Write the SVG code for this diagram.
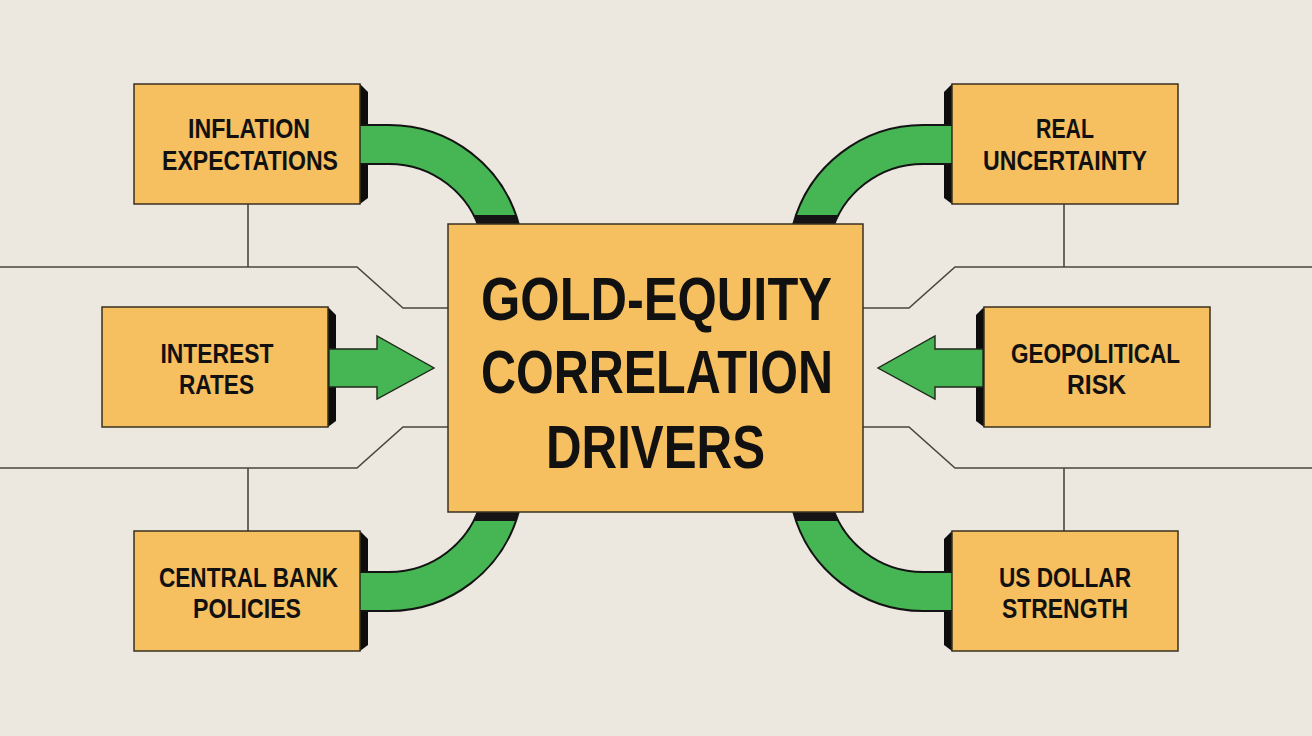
<svg xmlns="http://www.w3.org/2000/svg" xmlns:xlink="http://www.w3.org/1999/xlink" width="1312" height="736" viewBox="0 0 1312 736">
<style>
.box{fill:#F6BF5F;stroke:#3a3020;stroke-width:1.5}
.shadow{fill:#0d0d0d}
.wire{fill:none;stroke:#4a463e;stroke-width:1.6}
.lbl{font-family:"Liberation Sans Narrow","Liberation Sans",Arial,sans-serif;font-weight:bold;font-size:27px;fill:#111;text-anchor:middle}
.title{font-family:"Liberation Sans Narrow","Liberation Sans",Arial,sans-serif;font-weight:bold;font-size:61px;fill:#111;text-anchor:middle}
.arrow{fill:#46B553;stroke:#1f2a1a;stroke-width:1.4;stroke-linejoin:miter}
</style>
<defs>
<clipPath id="capclip" clipPathUnits="userSpaceOnUse"><rect x="0" y="0" width="1312" height="215"/></clipPath>
<clipPath id="startclip" clipPathUnits="userSpaceOnUse"><rect x="360.7" y="0" width="600" height="736"/></clipPath>
<g id="band" clip-path="url(#startclip)">
<path d="M 355 144.5 H 389 A 115 115 0 0 1 500.15 230" fill="none" stroke="#141414" stroke-width="41"/>
<path d="M 355 144.5 H 389 A 115 115 0 0 1 500.15 230" fill="none" stroke="#46B553" stroke-width="37" clip-path="url(#capclip)"/>
</g>
<polygon id="arr" class="arrow" points="329,349 377,349 377,336 434,368 377,399 377,387 329,387"/>
</defs>
<rect x="0" y="0" width="1312" height="736" fill="#ECE8DF"/>

<g id="wires">
<path class="wire" d="M 0 267 H 357 L 403 308 H 448"/>
<path class="wire" d="M 248 204 V 267"/>
<path class="wire" d="M 0 468 H 357 L 403 427 H 448"/>
<path class="wire" d="M 248 468 V 531"/>
<path class="wire" d="M 1312 267 H 955 L 909 308 H 863"/>
<path class="wire" d="M 1064 204 V 267"/>
<path class="wire" d="M 1312 468 H 955 L 909 427 H 863"/>
<path class="wire" d="M 1064 468 V 531"/>
</g>

<g id="node-inflation">
<polygon class="shadow" points="360,84 368,92 368,198 360,204"/>
<rect class="box" x="134" y="84" width="226" height="120"/>
<text class="lbl" x="249" y="138" textLength="122" lengthAdjust="spacingAndGlyphs">INFLATION</text>
<text class="lbl" x="250" y="170" textLength="176" lengthAdjust="spacingAndGlyphs">EXPECTATIONS</text>
</g>

<g id="node-interest">
<polygon class="shadow" points="328,307 336,315 336,421 328,427"/>
<rect class="box" x="102" y="307" width="226" height="120"/>
<text class="lbl" x="217" y="363" textLength="113" lengthAdjust="spacingAndGlyphs">INTEREST</text>
<text class="lbl" x="216.5" y="394" textLength="75" lengthAdjust="spacingAndGlyphs">RATES</text>
</g>

<g id="node-central">
<polygon class="shadow" points="360,531 368,539 368,645 360,651"/>
<rect class="box" x="134" y="531" width="226" height="120"/>
<text class="lbl" x="248.5" y="587" textLength="179" lengthAdjust="spacingAndGlyphs">CENTRAL BANK</text>
<text class="lbl" x="247" y="618" textLength="108" lengthAdjust="spacingAndGlyphs">POLICIES</text>
</g>

<g id="node-real">
<polygon class="shadow" points="952,84 944,92 944,198 952,204"/>
<rect class="box" x="952" y="84" width="226" height="120"/>
<text class="lbl" x="1065" y="138" textLength="58" lengthAdjust="spacingAndGlyphs">REAL</text>
<text class="lbl" x="1065" y="170" textLength="164" lengthAdjust="spacingAndGlyphs">UNCERTAINTY</text>
</g>

<g id="node-geopolitical">
<polygon class="shadow" points="984,307 976,315 976,421 984,427"/>
<rect class="box" x="984" y="307" width="226" height="120"/>
<text class="lbl" x="1095.5" y="363" textLength="169" lengthAdjust="spacingAndGlyphs">GEOPOLITICAL</text>
<text class="lbl" x="1096.5" y="394" textLength="59" lengthAdjust="spacingAndGlyphs">RISK</text>
</g>

<g id="node-dollar">
<polygon class="shadow" points="952,531 944,539 944,645 952,651"/>
<rect class="box" x="952" y="531" width="226" height="120"/>
<text class="lbl" x="1065" y="587" textLength="132" lengthAdjust="spacingAndGlyphs">US DOLLAR</text>
<text class="lbl" x="1065" y="618" textLength="126" lengthAdjust="spacingAndGlyphs">STRENGTH</text>
</g>

<g id="connectors">
<use xlink:href="#band"/>
<use xlink:href="#band" transform="translate(1312,0) scale(-1,1)"/>
<use xlink:href="#band" transform="translate(0,736) scale(1,-1)"/>
<use xlink:href="#band" transform="translate(1312,736) scale(-1,-1)"/>
<use xlink:href="#arr"/>
<use xlink:href="#arr" transform="translate(1312,0) scale(-1,1)"/>
</g>

<g id="node-center">
<rect class="box" x="448" y="224" width="415" height="288"/>
<text class="title" x="656.5" y="320" textLength="351" lengthAdjust="spacingAndGlyphs">GOLD-EQUITY</text>
<text class="title" x="657" y="393" textLength="352" lengthAdjust="spacingAndGlyphs">CORRELATION</text>
<text class="title" x="655.5" y="468" textLength="219" lengthAdjust="spacingAndGlyphs">DRIVERS</text>
</g>
</svg>
